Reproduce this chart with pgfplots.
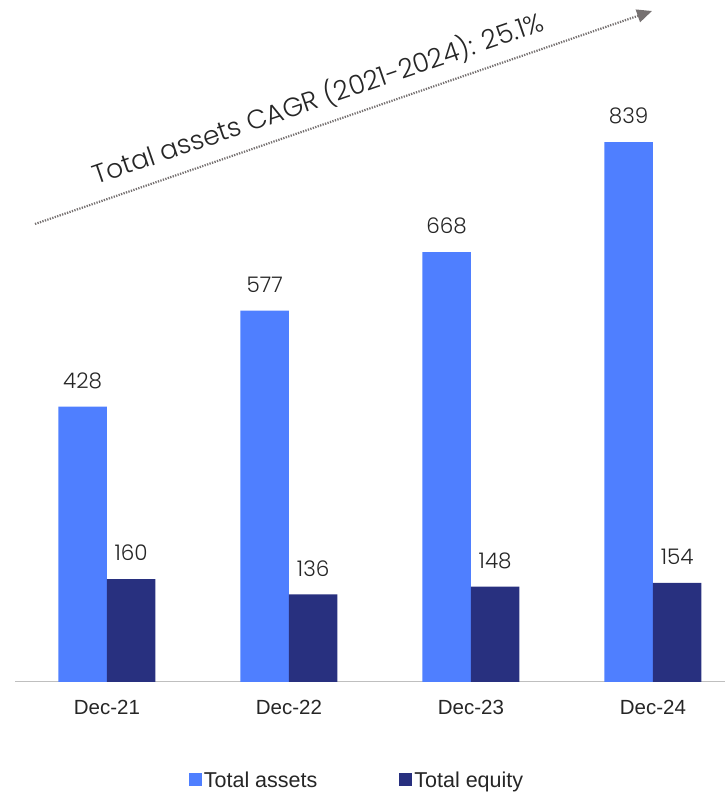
\documentclass[border=0pt]{standalone}
\usepackage{pgfplots}
\pgfplotsset{compat=1.18}
\usepackage{fontspec}
\setmainfont{Liberation Sans}
\newfontfamily\pop{Poppins Light}
\usetikzlibrary{arrows.meta}
\definecolor{assets}{HTML}{4F7FFF}
\definecolor{equity}{HTML}{28307F}
\definecolor{lbl}{HTML}{262626}
\definecolor{arr}{HTML}{767171}
\begin{document}
\begin{tikzpicture}[x=1pt,y=1pt]
\useasboundingbox (0,0) rectangle (725,794);
\begin{axis}[at={(15pt,112pt)}, anchor=south west, scale only axis,
  width=710pt, height=682pt,
  xmin=-0.505, xmax=3.396, ymin=0, ymax=1059.7,
  ybar=0pt, bar width=48.5pt,
  axis x line=bottom, axis y line=none,
  x axis line style={-, draw=black!25, line width=1pt},
  major tick length=0pt, ytick=\empty,
  xtick={0,1,2,3}, xticklabels={Dec-21,Dec-22,Dec-23,Dec-24},
  xticklabel style={font=\fontsize{20.5}{24}\selectfont, color=lbl, anchor=base, yshift=-33pt},
  /pgf/number format/assume math mode=true,
  nodes near coords,
  every node near coord/.append style={font=\pop\fontsize{21.5}{25}\selectfont, color=lbl, yshift=14.5pt},
  legend columns=2,
  legend style={draw=none, at={(0.4817,-0.145)}, anchor=center,
    font=\fontsize{21.5}{25}\selectfont, text=lbl,
    /tikz/every even column/.append style={column sep=80pt}},
  legend image code/.code={\fill[#1,draw=none] (0pt,-5pt) rectangle (13pt,8pt);},
]
\addplot[fill=assets, draw=none] coordinates {(0,428) (1,577) (2,668) (3,839)};
\addplot[fill=equity, draw=none] coordinates {(0,160) (1,136) (2,148) (3,154)};
\legend{Total assets, Total equity}
\end{axis}
\draw[color=arr, line width=2.2pt, dash pattern=on 1.3pt off 1.3pt,
  -{Triangle[length=15pt,width=13pt]}] (35,570) -- (652,783);
\node[rotate=19, anchor=base west, font=\pop\fontsize{26.5}{30}\selectfont, text=lbl, inner sep=0pt]
  at (96,609) {Total assets CAGR (2021-2024): 25.1\%};
\end{tikzpicture}
\end{document}
